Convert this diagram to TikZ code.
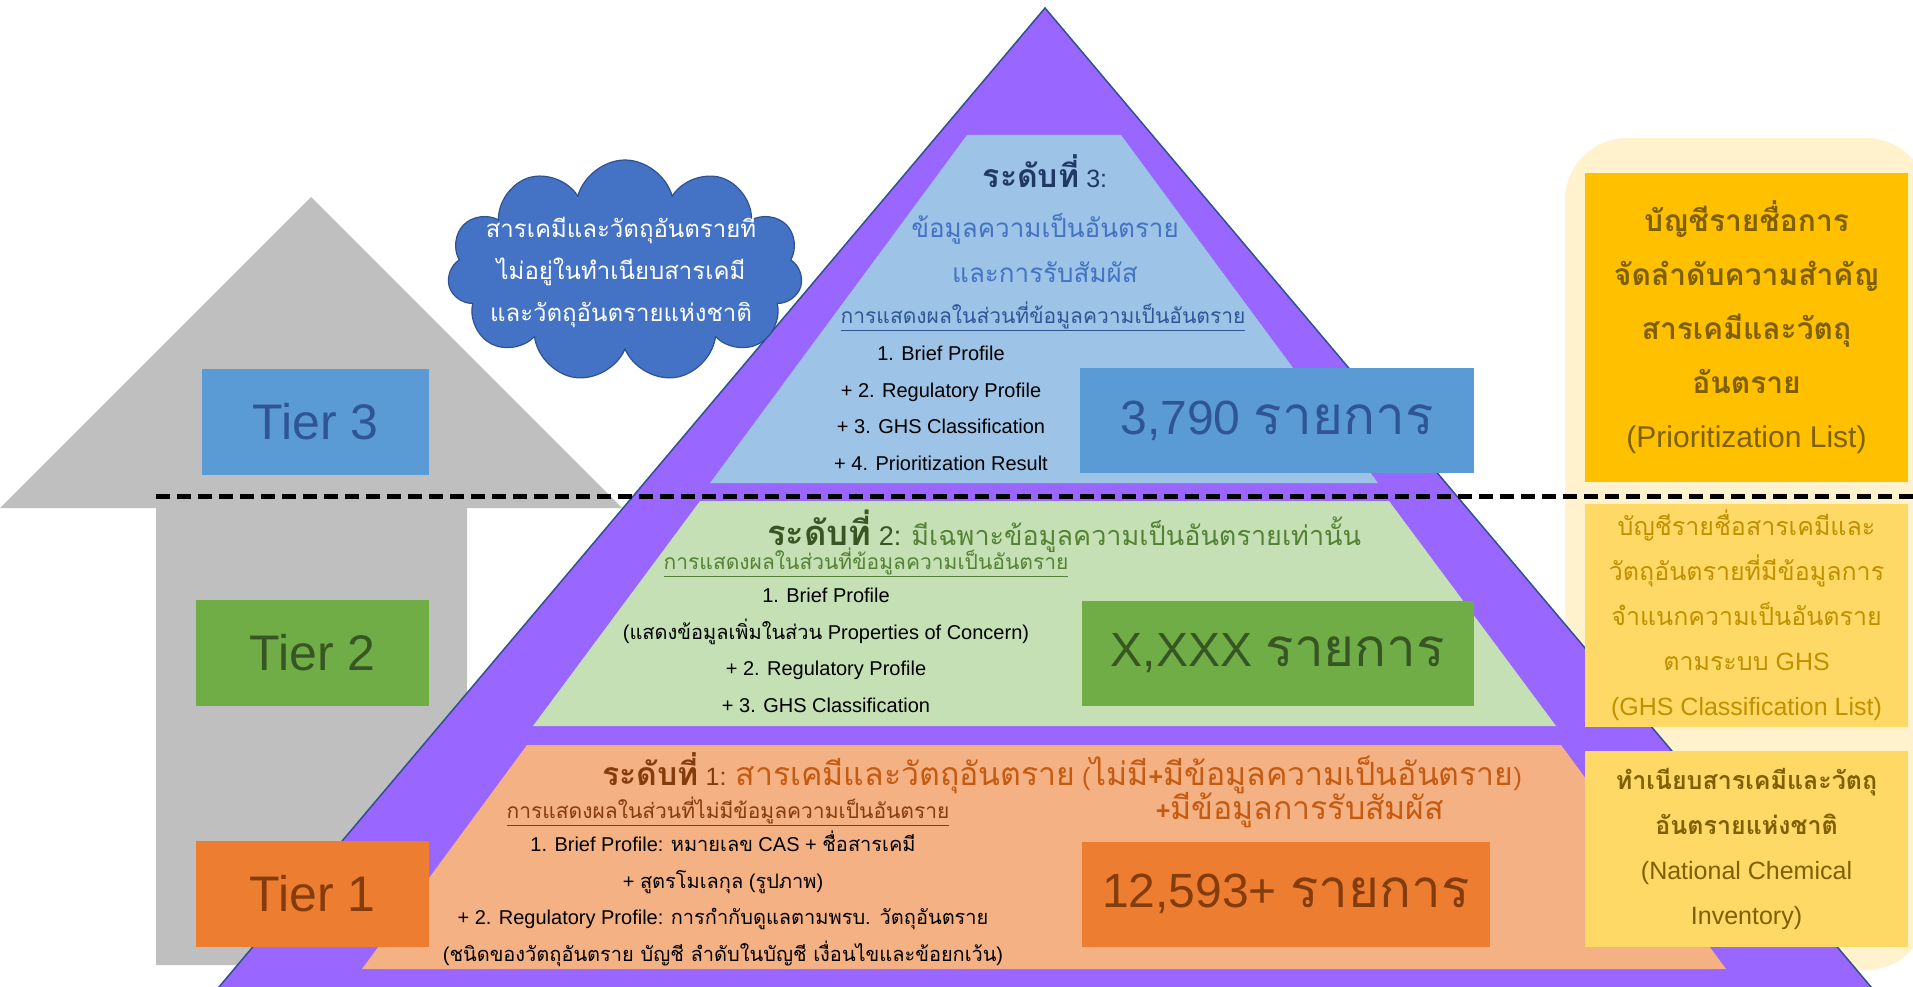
\documentclass[tikz,border=0pt]{standalone}
\usepackage{fontspec}
\setmainfont{Liberation Sans}
\newfontfamily\thaifont[Script=Thai]{Loma}
\newfontfamily\thaiheadfont[Script=Thai,Scale=1.28]{Loma}
\usetikzlibrary{shapes.symbols}
\newcommand{\Thai}[1]{{\thaifont#1}}
\newcommand{\ThaiH}[1]{{\thaiheadfont#1}}
\newcommand{\Fs}[2]{\fontsize{#1}{#2}\selectfont}
\newcommand{\Items}{\Thai{\Fs{53}{58}รายการ}}
\definecolor{pyramid}{HTML}{9966FF}\definecolor{pyrline}{HTML}{2F528F}
\definecolor{lvlthree}{HTML}{9DC3E6}\definecolor{lvltwo}{HTML}{C5E0B4}\definecolor{lvlone}{HTML}{F4B183}
\definecolor{bluebox}{HTML}{5B9BD5}\definecolor{greenbox}{HTML}{70AD47}\definecolor{orangebox}{HTML}{ED7D31}
\definecolor{bluetxt}{HTML}{2F5597}\definecolor{navytxt}{HTML}{1F3864}\definecolor{midblue}{HTML}{4472C4}
\definecolor{greentxt}{HTML}{375623}\definecolor{midgreen}{HTML}{548235}
\definecolor{browntxt}{HTML}{843C0C}\definecolor{midorange}{HTML}{C55A11}
\definecolor{housegray}{HTML}{BFBFBF}\definecolor{cream}{HTML}{FFF2CC}
\definecolor{gold}{HTML}{FFC000}\definecolor{lightgold}{HTML}{FFD966}
\definecolor{darkgold}{HTML}{7F6000}\definecolor{midgold}{HTML}{BF9000}
\tikzset{tierbox/.style={minimum height=106,font=\Fs{50}{60}}}
\tikzset{countbox/.style={minimum height=105,font=\Fs{48}{58}}}
\tikzset{sidebox/.style={minimum width=323,align=center}}
\tikzset{listtxt/.style={align=center,font=\Fs{20}{36.5}}}
\tikzset{subhead/.style={font=\Fs{21}{25}}}

\begin{document}
\begin{tikzpicture}[x=1pt,y=-1pt,inner sep=0pt]
\useasboundingbox(0,0)rectangle(1913,987);
\fill[cream,rounded corners=62](1565,138)rectangle(1928,970);
\fill[housegray](311,197)--(622,508)--(467,508)--(467,965)--(156,965)--(156,508)--(0,508)--cycle;
\draw[fill=pyramid,draw=pyrline,line width=1.5](1045,8)--(1882,1000)--(208,1000)--cycle;
\fill[lvlthree](967,135)--(1121,135)--(1378,483)--(710,483)--cycle;
\fill[lvltwo](700,501)--(1389,501)--(1556,726)--(533,726)--cycle;
\fill[lvlone](527,745)--(1561,745)--(1726,969)--(362,969)--cycle;
\draw[line width=5,dash pattern=on 14 off 7](156,496)--(1913,496);

\node[cloud,cloud puffs=11,cloud ignores aspect,minimum width=355,minimum height=222,fill=midblue,draw=pyrline,line width=1.2](cloud)at(625,271){};
\node[align=center,text=white,font=\Fs{24}{42}](cloudtxt)at(621,270){\Thai{สารเคมีและวัตถุอันตรายที่}\\\Thai{ไม่อยู่ในทำเนียบสารเคมี}\\\Thai{และวัตถุอันตรายแห่งชาติ}};

\node[tierbox,fill=bluebox,text=bluetxt,minimum width=227](tier3)at(315.5,421.5){Tier 3};
\node[tierbox,fill=greenbox,text=greentxt,minimum width=233](tier2)at(312.5,653){Tier 2};
\node[tierbox,fill=orangebox,text=browntxt,minimum width=233](tier1)at(312.5,894){Tier 1};

\node[font=\Fs{25}{30},text=navytxt](head3)at(1045,171){\ThaiH{\bfseries ระดับที่} 3:};
\node[align=center,font=\Fs{26}{45},text=midblue](head3b)at(1045,248){\Thai{ข้อมูลความเป็นอันตราย}\\\Thai{และการรับสัมผัส}};
\node[subhead,text=bluetxt](sub3)at(1043,316){\underline{\Thai{การแสดงผลในส่วนที่ข้อมูลความเป็นอันตราย}}};
\node[listtxt](list3)at(941,408.5){1. Brief Profile\\+ 2. Regulatory Profile\\+ 3. GHS Classification\\+ 4. Prioritization Result};
\node[countbox,fill=bluebox,text=bluetxt,minimum width=394](count3)at(1277,420.5){3,790 \Items};

\node[font=\Fs{27}{30}](head2)at(1064,531){\textcolor{greentxt}{\ThaiH{\bfseries ระดับที่} 2:} \textcolor{midgreen}{\Thai{มีเฉพาะข้อมูลความเป็นอันตรายเท่านั้น}}};
\node[subhead,text=midgreen](sub2)at(866,562){\underline{\Thai{การแสดงผลในส่วนที่ข้อมูลความเป็นอันตราย}}};
\node[listtxt](list2)at(826,650.5){1. Brief Profile\\(\Thai{แสดงข้อมูลเพิ่มในส่วน} Properties of Concern)\\+ 2. Regulatory Profile\\+ 3. GHS Classification};
\node[countbox,fill=greenbox,text=greentxt,minimum width=392](count2)at(1278,653.5){X,XXX \Items};

\node[font=\Fs{25}{29}](head1)at(1062,773){\textcolor{browntxt}{\ThaiH{\bfseries ระดับที่} 1:} \textcolor{midorange}{\ThaiH{สารเคมีและวัตถุอันตราย} (\ThaiH{ไม่มี}\textbf{+}\ThaiH{มีข้อมูลความเป็นอันตราย})}};
\node[font=\Fs{25}{29},text=midorange](head1b)at(1300,810){\textbf{+}\ThaiH{มีข้อมูลการรับสัมผัส}};
\node[subhead,text=browntxt](sub1)at(728,811){\underline{\Thai{การแสดงผลในส่วนที่ไม่มีข้อมูลความเป็นอันตราย}}};
\node[listtxt](list1)at(723,899){1. Brief Profile: \Thai{หมายเลข} CAS + \Thai{ชื่อสารเคมี}\\+ \Thai{สูตรโมเลกุล} (\Thai{รูปภาพ})\\+ 2. Regulatory Profile: \Thai{การกำกับดูแลตามพรบ. วัตถุอันตราย}\\(\Thai{ชนิดของวัตถุอันตราย บัญชี ลำดับในบัญชี เงื่อนไขและข้อยกเว้น})};
\node[countbox,fill=orangebox,text=browntxt,minimum width=408](count1)at(1286,894){12,593+ \Items};

\node[sidebox,fill=gold,text=darkgold,minimum height=309,font=\Fs{30}{54}](prio)at(1746.5,327.5){\Thai{\bfseries บัญชีรายชื่อการ}\\\Thai{\bfseries จัดลำดับความสำคัญ}\\\Thai{\bfseries สารเคมีและวัตถุ}\\\Thai{\bfseries อันตราย}\\(Prioritization List)};
\node[sidebox,fill=lightgold,text=midgold,minimum height=223,font=\Fs{25}{45}](ghs)at(1746.5,615.5){\Thai{บัญชีรายชื่อสารเคมีและ}\\\Thai{วัตถุอันตรายที่มีข้อมูลการ}\\\Thai{จำแนกความเป็นอันตราย}\\\Thai{ตามระบบ} GHS\\(GHS Classification List)};
\node[sidebox,fill=lightgold,text=darkgold,minimum height=196,font=\Fs{25}{45}](nci)at(1746.5,849){\Thai{\bfseries ทำเนียบสารเคมีและวัตถุ}\\\Thai{\bfseries อันตรายแห่งชาติ}\\(National Chemical\\Inventory)};
\end{tikzpicture}
\end{document}
